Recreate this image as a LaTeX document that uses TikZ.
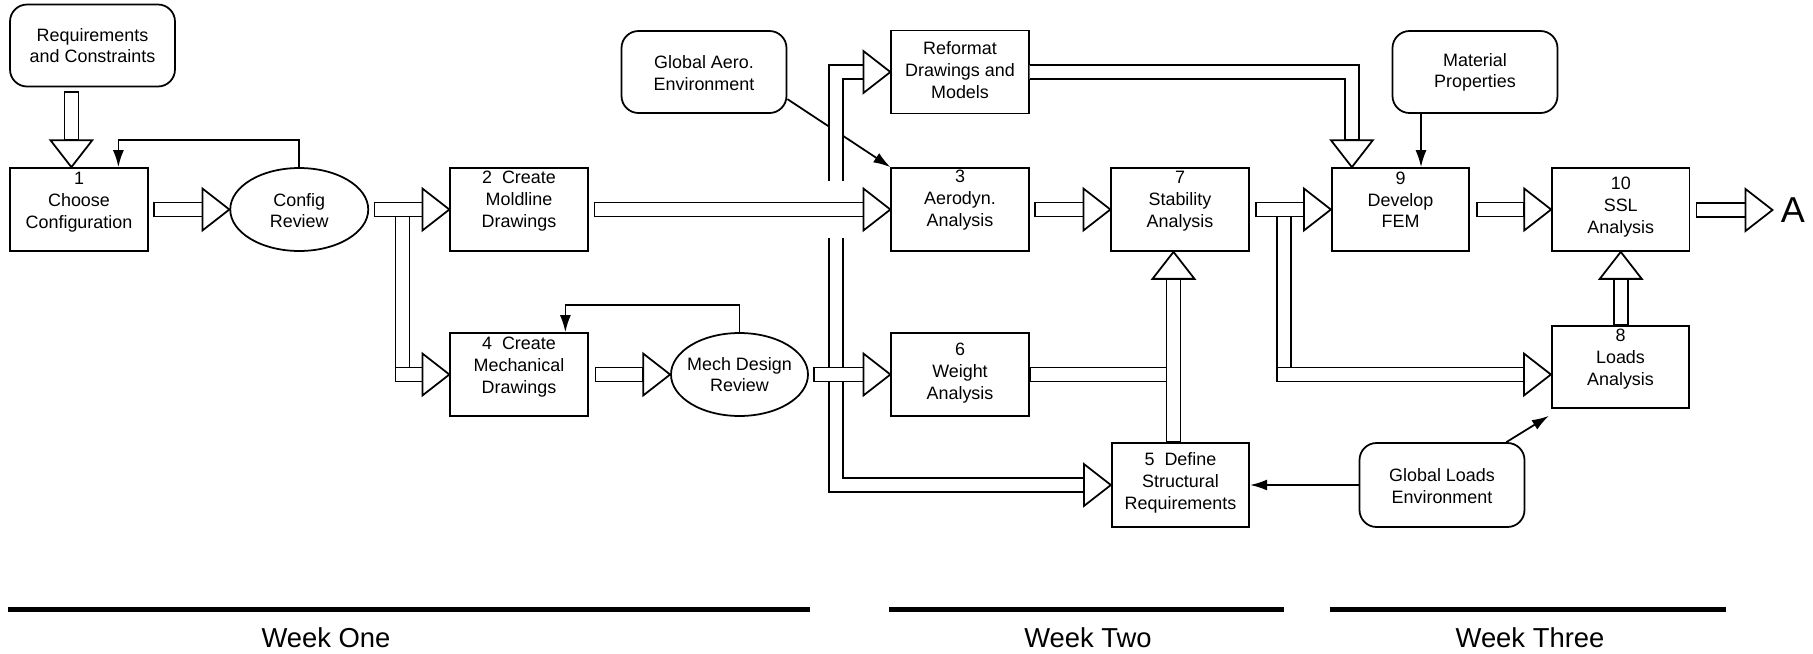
\documentclass[tikz,border=0pt]{standalone}
\usepackage{fontspec}
\setmainfont{Liberation Sans}
\usetikzlibrary{shapes.geometric,calc,arrows.meta}

\newcommand{\dgmfont}{\fontsize{10.2}{12.35}\selectfont}
\newcommand{\dgmweekfont}{\fontsize{15.6}{18}\selectfont}

% hollow block arrows: heads pointing right / up / down at a named tip
\newcommand{\fatheadR}[1]{\draw[fatbody] ($(#1)+(-27,-21)$) -- (#1) -- ($(#1)+(-27,21)$) -- cycle;}
\newcommand{\fatheadU}[1]{\draw[fatbody] ($(#1)+(-21,27)$) -- (#1) -- ($(#1)+(21,27)$) -- cycle;}
\newcommand{\fatheadD}[1]{\draw[fatbody] ($(#1)+(-21,-27)$) -- (#1) -- ($(#1)+(21,-27)$) -- cycle;}
% shaft plus head, from a start point to a tip
\newcommand{\fatR}[2]{\draw[fatbody] ($(#1 |- #2)+(0,-7)$) rectangle ($(#2)+(-27,7)$); \fatheadR{#2}}
\newcommand{\fatU}[2]{\draw[fatbody] ($(#2 |- #1)+(-7,0)$) rectangle ($(#2)+(7,27)$); \fatheadU{#2}}
\newcommand{\fatD}[2]{\draw[fatbody] ($(#2 |- #1)+(-7,0)$) rectangle ($(#2)+(7,-27)$); \fatheadD{#2}}

\begin{document}
\begin{tikzpicture}[x=0.02cm, y=-0.02cm,
  box/.style={draw, line width=1pt, minimum width=2.75cm, minimum height=1.66cm, inner sep=0pt},
  rbox/.style={box, rounded corners=0.34cm, minimum width=3.3cm, minimum height=1.64cm},
  oval/.style={draw, ellipse, line width=1pt, minimum width=2.76cm, minimum height=1.66cm, inner sep=0pt},
  txt/.style={align=center, inner sep=0pt, font=\dgmfont},
  fatbody/.style={draw, fill=white, line width=1pt, line join=miter},
  thinarr/.style={draw, line width=1pt, -{Latex[length=0.34cm,width=0.22cm]}},
  weekbar/.style={line width=0.1cm},
  weeklbl/.style={font=\dgmweekfont, inner sep=0pt}]
\useasboundingbox (0,0) rectangle (1813,653);

% ---------- shapes ----------
\node[rbox] (req) at (92.5,45.5) {};
\node[rbox] (aero) at (704,72) {};
\node[rbox] (mat) at (1475,72) {};
\node[rbox, minimum height=1.68cm] (loads) at (1442,485) {};

\node[box] (b1) at (79,209.5) {};
\node[oval] (config) at (299.25,209.5) {};
\node[box] (b2) at (519,209.5) {};
\node[box] (b4) at (519,374.5) {};
\node[oval, minimum width=2.74cm] (mech) at (739.5,374.5) {};
\node[box] (reformat) at (960,72) {};
\node[box] (b3) at (960,209.5) {};
\node[box] (b6) at (960,374.5) {};
\node[box] (b7) at (1180,209.5) {};
\node[box, minimum height=1.68cm] (b5) at (1180.5,485) {};
\node[box] (b9) at (1400.5,209.5) {};
\node[box] (b10) at (1620.75,209.5) {};
\node[box, minimum height=1.64cm] (b8) at (1620.5,367) {};
\node[anchor=west, inner sep=0pt, font=\fontsize{20.5}{24}\selectfont] (A) at (1780.5,210) {A};

% ---------- texts ----------
\node[txt] (reqt) at (req.center) {Requirements\\and Constraints};
\node[txt] (aerot) at ($(aero.center)+(0,1)$) {Global Aero.\\Environment};
\node[txt] (matt) at ($(mat.center)+(0,0.5)$) {Material\\Properties};
\node[txt] (loadst) at ($(loads.center)+(0,1)$) {Global Loads\\Environment};
\node[txt] (b1t) at ($(b1.center)+(0,-7.5)$) {1\\Choose\\Configuration};
\node[txt] (configt) at ($(config.center)+(0,1)$) {Config\\Review};
\node[txt] (b2t) at ($(b2.center)+(0,-8.5)$) {2~~Create\\Moldline\\Drawings};
\node[txt] (b4t) at ($(b4.center)+(0,-7.5)$) {4~~Create\\Mechanical\\Drawings};
\node[txt] (mecht) at (mech.center) {Mech Design\\Review};
\node[txt] (reformatt) at ($(reformat.center)+(0,-2)$) {Reformat\\Drawings and\\Models};
\node[txt] (b3t) at ($(b3.center)+(0,-9.5)$) {3\\Aerodyn.\\Analysis};
\node[txt] (b6t) at ($(b6.center)+(0,-1.5)$) {6\\Weight\\Analysis};
\node[txt] (b7t) at ($(b7.center)+(0,-8.5)$) {7\\Stability\\Analysis};
\node[txt] (b5t) at ($(b5.center)+(0,-2)$) {5~~Define\\Structural\\Requirements};
\node[txt] (b9t) at ($(b9.center)+(0,-9.5)$) {9\\Develop\\FEM};
\node[txt] (b10t) at ($(b10.center)+(0,-2.5)$) {10\\SSL\\Analysis};
\node[txt] (b8t) at ($(b8.center)+(0,-8)$) {8\\Loads\\Analysis};

% ---------- thin connectors ----------
\draw[thinarr] (config.north) -- ++(0,-27) -| ($(b1.north west)+(109,0)$);
\draw[thinarr] (mech.north) -- ++(0,-27) -| ($(b4.north west)+(116,0)$);
\draw[thinarr] (aero.-18) -- (b3.north west);
\coordinate (mp) at ($(mat.south)+(-54,0)$);
\draw[thinarr] (mp) -- (mp |- b9.north);
\draw[thinarr] (loads.west) -- (loads.west -| b5.east);
\coordinate (lq) at ($(loads.north east)+(-19,0)$);
\coordinate (lt) at ($(b8.south west)+(-2,7)$);
\draw[thinarr] (lq) -- (lt);

% ---------- block arrows ----------
\coordinate (t1) at ($(b1.north west)+(62,0)$);
\coordinate (s1) at ($(req.south)+(0,5)$);
\fatD{s1}{t1}

\coordinate (s2) at ($(b1.east)+(5.5,0)$);
\fatR{s2}{config.west}

\coordinate (s3) at ($(config.east)+(5.5,0)$);
\fatR{s3}{b2.west}
\coordinate (cj) at ($(config.east)+(33.5,0)$);
\draw[fatbody] ($(cj)+(-7,7)$) rectangle ($(cj |- b4.west)+(7,-7)$);
\coordinate (cjb) at ($(cj)+(-7,0)$);
\fatR{cjb}{b4.west}

\coordinate (s4) at ($(b4.east)+(7,0)$);
\fatR{s4}{mech.west}

% distribution bus after the mechanical design review
\coordinate (bus) at ($(mech.east)+(27.5,0)$);
\draw[fatbody] ($(reformat.west)+(-27,-7)$) -- ($(bus |- reformat.west)+(-7,-7)$)
  -- ($(bus |- b5.west)+(-7,7)$) -- ($(b5.west)+(-27,7)$) -- ($(b5.west)+(-27,-7)$)
  -- ($(bus |- b5.west)+(7,-7)$) -- ($(bus |- reformat.west)+(7,7)$)
  -- ($(reformat.west)+(-27,7)$) -- cycle;
\fatheadR{reformat.west}
\fatheadR{b5.west}

% moldline path crossing over the bus
\fill[white] ($(bus |- b3.west)+(-10,-28.5)$) rectangle ($(bus |- b3.west)+(10,28.5)$);
\coordinate (s5) at ($(b2.east)+(6,0)$);
\fatR{s5}{b3.west}

\coordinate (s6) at ($(mech.east)+(5,0)$);
\fatR{s6}{b6.west}

\coordinate (s7) at ($(b3.east)+(5,0)$);
\fatR{s7}{b7.west}

\coordinate (t7) at ($(b7.south)+(-6.5,0)$);
\fatU{b5.north}{t7}
\draw[fatbody] ($(b6.east)+(0,-7)$) rectangle ($(t7 |- b6.east)+(-7,7)$);

\coordinate (t9) at ($(b9.north west)+(21,0)$);
\draw[fatbody] ($(reformat.east)+(0,-7)$) -- ($(t9 |- reformat.east)+(7,-7)$)
  -- ($(t9)+(7,-27)$) -- ($(t9)+(-7,-27)$) -- ($(t9 |- reformat.east)+(-7,7)$)
  -- ($(reformat.east)+(0,7)$);
\fatheadD{t9}

\coordinate (s8) at ($(b7.east)+(6,0)$);
\fatR{s8}{b9.west}
\coordinate (sj) at ($(b7.east)+(34.5,0)$);
\coordinate (t8) at ($(b8.west)+(0,7.5)$);
\draw[fatbody] ($(sj)+(-7,7)$) rectangle ($(sj |- t8)+(7,-7)$);
\coordinate (sjb) at ($(sj)+(-7,0)$);
\fatR{sjb}{t8}

\coordinate (s9) at ($(b9.east)+(6.5,0)$);
\fatR{s9}{b10.west}

\coordinate (s10) at ($(b10.east)+(6,0)$);
\coordinate (tA) at ($(A.west)+(-8,0)$);
\fatR{s10}{tA}

\fatU{b8.north}{b10.south}

% ---------- time line ----------
\draw[weekbar] (8,609.5) -- (810,609.5);
\draw[weekbar] (889,609.5) -- (1284,609.5);
\draw[weekbar] (1329.5,609.5) -- (1726,609.5);
\node[weeklbl] (w1) at (326,638) {Week One};
\node[weeklbl] (w2) at (1088,638) {Week Two};
\node[weeklbl] (w3) at (1530,638) {Week Three};
\end{tikzpicture}
\end{document}
